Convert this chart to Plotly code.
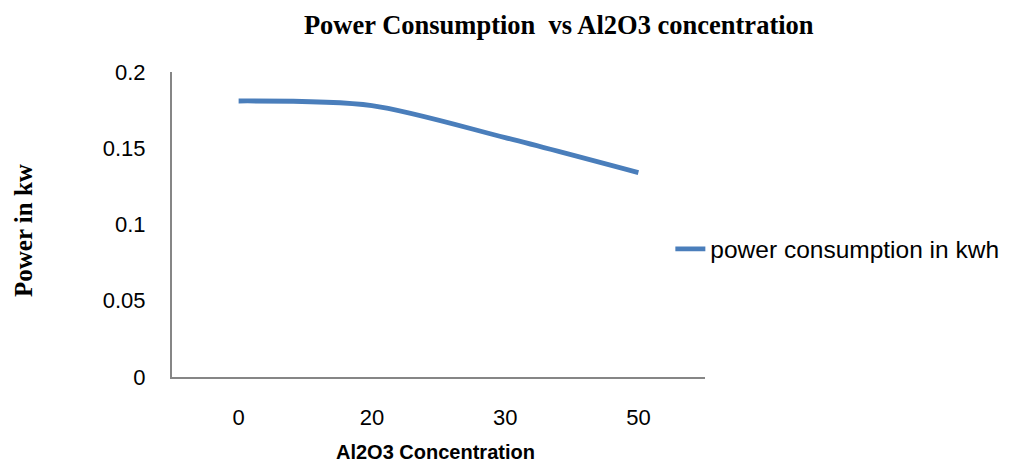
import plotly.graph_objects as go

categories = ["0", "20", "30", "50"]
power = [0.181, 0.178, 0.157, 0.134]
y_ticks = [0, 0.05, 0.1, 0.15, 0.2]
y_tick_labels = ["0", "0.05", "0.1", "0.15", "0.2"]

SANS = "Liberation Sans"
SERIF = "Liberation Serif"

fig = go.Figure()
fig.add_trace(go.Scatter(
    x=categories, y=power, mode="lines", name="power consumption in kwh",
    line=dict(color="#4A7EBB", width=4.8, shape="spline", smoothing=0.8),
))

fig.update_layout(
    width=1005, height=465,
    margin=dict(l=164, r=308, t=64, b=96, autoexpand=False),
    paper_bgcolor="white", plot_bgcolor="white",
    title=dict(text="<b>Power Consumption  vs Al2O3 concentration</b>",
               x=0.548, xanchor="center", y=0.963, yanchor="middle",
               font=dict(family=SERIF, size=26.5, color="black")),
    showlegend=True,
    legend=dict(x=0.935, xanchor="left", y=0.42, yanchor="middle",
                font=dict(family=SANS, size=24.5, color="black"),
                bgcolor="rgba(0,0,0,0)", itemwidth=30),
    font=dict(family=SANS, size=22, color="black"),
    annotations=[
        dict(text="<b>Power in kw</b>", xref="paper", yref="paper",
             x=-0.2777, y=0.482, xanchor="center", yanchor="middle",
             textangle=-90, showarrow=False,
             font=dict(family=SERIF, size=25, color="black")),
        dict(text="<b>Al2O3 Concentration</b>", xref="paper", yref="paper",
             x=0.495, y=-0.246, xanchor="center", yanchor="middle",
             showarrow=False,
             font=dict(family=SANS, size=20, color="black")),
    ],
)
fig.update_xaxes(
    type="category", range=[-0.5, 3.5],
    showline=True, linecolor="#868686", linewidth=2,
    showgrid=False, ticks="", ticklabelstandoff=20,
    tickfont=dict(size=22),
)
fig.update_yaxes(
    range=[0, 0.2], tickvals=y_ticks, ticktext=y_tick_labels,
    showline=True, linecolor="#868686", linewidth=2,
    showgrid=False, zeroline=False, ticks="", ticklabelstandoff=20,
    tickfont=dict(size=22),
)
fig.write_html("out.html")
